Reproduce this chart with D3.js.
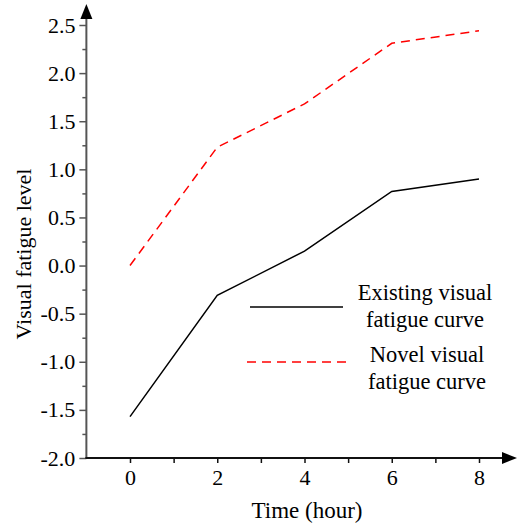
<!DOCTYPE html>
<html>
<head>
<meta charset="utf-8">
<script src="https://cdn.jsdelivr.net/npm/d3@7"></script>
<style>
  body { margin: 0; background: #fff; }
  text { font-family: "Liberation Serif", "Times New Roman", serif; fill: #000; }
</style>
</head>
<body>
<svg id="chart"></svg>
<script>
const width = 518
const height = 526

// data
const hours = [0, 2, 4, 6, 8]
const existingCurve = [-1.57, -0.31, 0.15, 0.77, 0.90]
const novelCurve = [0.0, 1.23, 1.68, 2.31, 2.44]
const yTicks = [-2.0, -1.5, -1.0, -0.5, 0.0, 0.5, 1.0, 1.5, 2.0, 2.5]
const yMinorTicks = [-1.75, -1.25, -0.75, -0.25, 0.25, 0.75, 1.25, 1.75, 2.25]
const xTicks = [0, 2, 4, 6, 8]
const xMinorTicks = [1, 3, 5, 7]

const svg = d3.select("#chart")
            .attr("width", width)
            .attr("height", height);

const x = d3.scaleLinear().domain([0, 8]).range([130, 479])
const y = d3.scaleLinear().domain([-2, 2.5]).range([458, 25])

const axisX = x(-1)   // where the y axis sits
const axisY = y(-2)   // where the x axis sits

// plain hyphen for negatives, like the original
const fmt = d => d.toFixed(1)

// y axis: minor ticks, then major ticks with labels
svg.append("g")
   .attr("transform", `translate(${axisX},0)`)
   .call(d3.axisLeft(y).tickValues(yMinorTicks).tickSize(4).tickFormat(""))
   .call(g => g.select(".domain").remove())
   .call(g => g.selectAll("line").attr("stroke", "#555").attr("stroke-width", 1.5));

svg.append("g")
   .attr("transform", `translate(${axisX},0)`)
   .call(d3.axisLeft(y).tickValues(yTicks).tickSize(7).tickPadding(4).tickFormat(fmt))
   .call(g => g.select(".domain").remove())
   .call(g => g.selectAll("line").attr("stroke", "#555").attr("stroke-width", 1.5))
   .call(g => g.selectAll("text").attr("font-size", 22).attr("font-family", "Liberation Serif"));

// x axis
svg.append("g")
   .attr("transform", `translate(0,${axisY})`)
   .call(d3.axisBottom(x).tickValues(xMinorTicks).tickSize(5).tickFormat(""))
   .call(g => g.select(".domain").remove())
   .call(g => g.selectAll("line").attr("stroke", "#111").attr("stroke-width", 1.5));

svg.append("g")
   .attr("transform", `translate(0,${axisY})`)
   .call(d3.axisBottom(x).tickValues(xTicks).tickSize(5).tickPadding(6).tickFormat(d3.format("d")))
   .call(g => g.select(".domain").remove())
   .call(g => g.selectAll("line").attr("stroke", "#111").attr("stroke-width", 1.5))
   .call(g => g.selectAll("text").attr("font-size", 22).attr("font-family", "Liberation Serif"));

// axis lines with arrow heads
svg.append("line")
   .attr("x1", axisX).attr("x2", axisX)
   .attr("y1", axisY).attr("y2", 14)
   .attr("stroke", "#555").attr("stroke-width", 2);
svg.append("path")
   .attr("d", `M${axisX},4 L${axisX - 6},19 L${axisX + 6},19 Z`)
   .attr("fill", "#000");

svg.append("line")
   .attr("x1", axisX - 1).attr("x2", 507)
   .attr("y1", axisY).attr("y2", axisY)
   .attr("stroke", "#111").attr("stroke-width", 2);
svg.append("path")
   .attr("d", `M517,${axisY} L502,${axisY - 6} L502,${axisY + 6} Z`)
   .attr("fill", "#000");

// curves
const line = d3.line()
               .x((d, i) => x(hours[i]))
               .y(d => y(d));

svg.append("path")
   .datum(existingCurve)
   .attr("d", line)
   .attr("fill", "none")
   .attr("stroke", "#000")
   .attr("stroke-width", 1.5);

svg.append("path")
   .datum(novelCurve)
   .attr("d", line)
   .attr("fill", "none")
   .attr("stroke", "#ff0000")
   .attr("stroke-width", 1.5)
   .attr("stroke-dasharray", "9,6");

// axis titles
svg.append("text")
   .attr("x", 307)
   .attr("y", 518)
   .attr("text-anchor", "middle")
   .attr("font-size", 23)
   .text("Time (hour)");

svg.append("text")
   .attr("transform", "translate(31,254) rotate(-90)")
   .attr("text-anchor", "middle")
   .attr("font-size", 22)
   .text("Visual fatigue level");

// legend
svg.append("line")
   .attr("x1", 250).attr("x2", 343)
   .attr("y1", 307).attr("y2", 307)
   .attr("stroke", "#000").attr("stroke-width", 1.5);

svg.append("line")
   .attr("x1", 247).attr("x2", 352)
   .attr("y1", 362).attr("y2", 362)
   .attr("stroke", "#ff0000").attr("stroke-width", 1.5)
   .attr("stroke-dasharray", "9,6");

const legendText = [
    {lines: ["Existing visual", "fatigue curve"], x: 425, y: 300},
    {lines: ["Novel visual", "fatigue curve"], x: 427, y: 362}
]

legendText.forEach(item => {
    item.lines.forEach((t, i) => {
        svg.append("text")
           .attr("x", item.x)
           .attr("y", item.y + i * 27)
           .attr("text-anchor", "middle")
           .attr("font-size", 22.5)
           .text(t);
    });
});
</script>
</body>
</html>
